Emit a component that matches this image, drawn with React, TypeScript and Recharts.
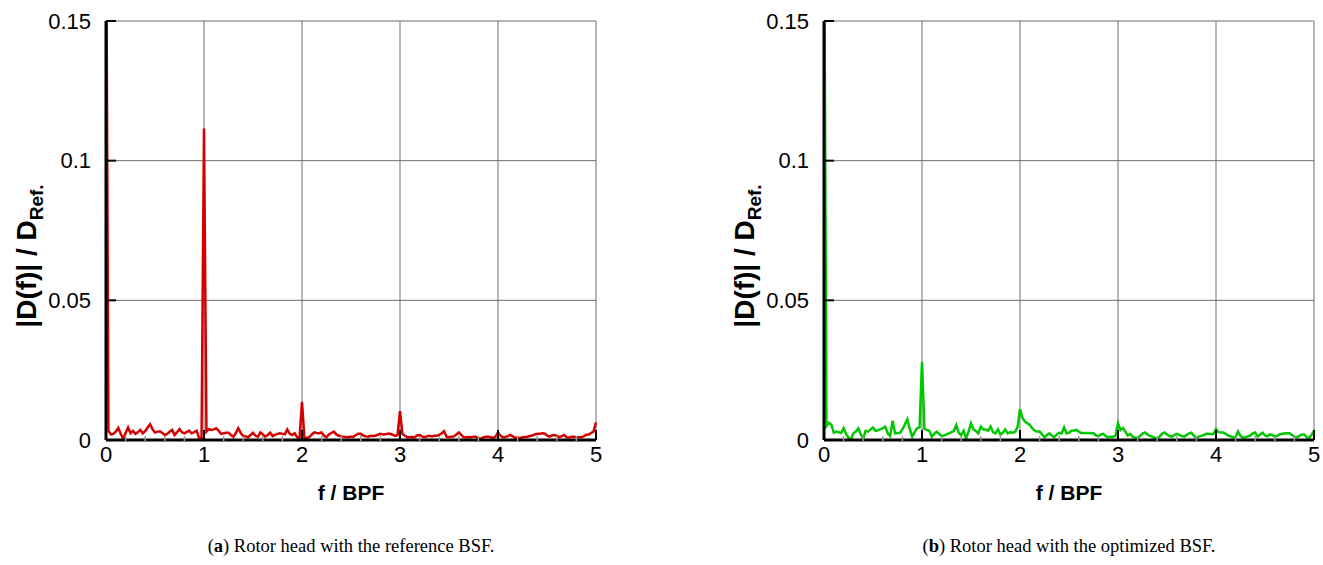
import { LineChart, Line, XAxis, YAxis, CartesianGrid } from "recharts";

// FFT bin spacing in f/BPF, 201 bins from 0 to 5
const BIN = 0.025;
const FREQ = Array.from({ length: 201 }, (_, i) => +(i * BIN).toFixed(3));

// |D(f)| / D_Ref. for the reference BSF (red)
const REFERENCE_BSF = [
  0.2, 0.0033, 0.002, 0.0022, 0.003, 0.0043, 0.0022, 0.0004, 0.0025, 0.0045,
  0.0024, 0.0033, 0.0022, 0.0028, 0.0036, 0.0024, 0.0032, 0.0045, 0.0057, 0.0038,
  0.0027, 0.003, 0.0031, 0.0025, 0.0018, 0.0022, 0.003, 0.0036, 0.0018, 0.0028,
  0.0039, 0.0028, 0.0024, 0.0029, 0.0033, 0.0024, 0.0028, 0.0033, 0.0007, 0.0005,
  0.1115, 0.003, 0.0039, 0.0036, 0.0038, 0.0042, 0.0033, 0.0022, 0.0024, 0.0026,
  0.0026, 0.0018, 0.0012, 0.0025, 0.0042, 0.0025, 0.0014, 0.0013, 0.001, 0.0018,
  0.0026, 0.0015, 0.0012, 0.0027, 0.002, 0.0012, 0.0018, 0.0026, 0.0014, 0.0018,
  0.0022, 0.0024, 0.0022, 0.002, 0.0038, 0.0022, 0.0018, 0.0024, 0.001, 0.0008,
  0.0137, 0.0006, 0.0008, 0.001, 0.002, 0.0027, 0.0025, 0.0024, 0.0027, 0.0015,
  0.001, 0.002, 0.0025, 0.003, 0.002, 0.0015, 0.0013, 0.0012, 0.001, 0.0011,
  0.0012, 0.0012, 0.0018, 0.0022, 0.0022, 0.0016, 0.0013, 0.0012, 0.0015, 0.0014,
  0.0015, 0.0019, 0.0022, 0.002, 0.0021, 0.0022, 0.0022, 0.0019, 0.0015, 0.0018,
  0.0103, 0.0022, 0.0015, 0.001, 0.001, 0.0011, 0.001, 0.0016, 0.0018, 0.0013,
  0.001, 0.0013, 0.0015, 0.0013, 0.0015, 0.0015, 0.0018, 0.0024, 0.0031, 0.0012,
  0.001, 0.0012, 0.0013, 0.002, 0.0027, 0.0018, 0.001, 0.001, 0.0011, 0.001,
  0.0012, 0.0012, 0.0006, 0.0004, 0.0009, 0.0012, 0.0012, 0.001, 0.0007, 0.0012,
  0.0027, 0.0015, 0.001, 0.0011, 0.0014, 0.0018, 0.0013, 0.0008, 0.0008, 0.0007,
  0.001, 0.0011, 0.0012, 0.0014, 0.0016, 0.002, 0.0022, 0.0022, 0.0024, 0.0023,
  0.0016, 0.0012, 0.0016, 0.0018, 0.0015, 0.001, 0.0014, 0.0018, 0.001, 0.0008,
  0.0012, 0.0012, 0.001, 0.001, 0.001, 0.0013, 0.0019, 0.002, 0.0025, 0.003,
  0.0063,
];

// |D(f)| / D_Ref. for the optimized BSF (green)
const OPTIMIZED_BSF = [
  0.2, 0.005, 0.0062, 0.0055, 0.0026, 0.003, 0.0028, 0.0025, 0.0042, 0.0022,
  0.0008, 0.0002, 0.0024, 0.003, 0.0042, 0.002, 0.0006, 0.0033, 0.003, 0.0038,
  0.0045, 0.0033, 0.0035, 0.0038, 0.0042, 0.0048, 0.0025, 0.0014, 0.0069, 0.0024,
  0.0025, 0.0026, 0.0038, 0.0055, 0.0074, 0.004, 0.0012, 0.0028, 0.0042, 0.0045,
  0.028, 0.004, 0.0036, 0.0033, 0.0012, 0.0022, 0.003, 0.0022, 0.0014, 0.0016,
  0.002, 0.0024, 0.0028, 0.0032, 0.0054, 0.0025, 0.0018, 0.0033, 0.0006, 0.003,
  0.006, 0.0038, 0.0032, 0.0024, 0.0048, 0.0038, 0.0038, 0.0033, 0.0048, 0.0028,
  0.0024, 0.0038, 0.002, 0.0026, 0.0038, 0.0024, 0.0028, 0.0026, 0.0029, 0.0045,
  0.011, 0.008, 0.0066, 0.006, 0.0054, 0.0042, 0.0033, 0.003, 0.003, 0.002,
  0.001, 0.0018, 0.0024, 0.0015, 0.001, 0.002, 0.0026, 0.0024, 0.0045, 0.0024,
  0.0026, 0.0033, 0.0034, 0.0036, 0.003, 0.0025, 0.0025, 0.0025, 0.0025, 0.0024,
  0.0024, 0.0016, 0.0014, 0.002, 0.0022, 0.0014, 0.001, 0.0012, 0.0012, 0.0015,
  0.006, 0.0036, 0.0043, 0.003, 0.0016, 0.0022, 0.0012, 0.0008, 0.0008, 0.0015,
  0.0023, 0.0027, 0.002, 0.0015, 0.0012, 0.0008, 0.0004, 0.0012, 0.0022, 0.0027,
  0.002, 0.0014, 0.0012, 0.0018, 0.0022, 0.0018, 0.0014, 0.0012, 0.0018, 0.0024,
  0.0026, 0.0015, 0.0008, 0.0012, 0.0015, 0.0018, 0.0022, 0.0022, 0.0021, 0.0022,
  0.0039, 0.0028, 0.0027, 0.0027, 0.0022, 0.0016, 0.0013, 0.001, 0.001, 0.0031,
  0.0015, 0.0008, 0.001, 0.0013, 0.0016, 0.0024, 0.0027, 0.0012, 0.002, 0.0026,
  0.0016, 0.0013, 0.002, 0.0018, 0.0012, 0.0015, 0.002, 0.0022, 0.0023, 0.0024,
  0.0024, 0.0018, 0.0012, 0.001, 0.0014, 0.002, 0.002, 0.001, 0.0008, 0.0018,
  0.0033,
];

const X_TICKS = [0, 1, 2, 3, 4, 5];
const X_MINOR = [
  0.2, 0.4, 0.6, 0.8, 1.2, 1.4, 1.6, 1.8, 2.2, 2.4, 2.6, 2.8,
  3.2, 3.4, 3.6, 3.8, 4.2, 4.4, 4.6, 4.8,
];
const Y_TICKS = [0, 0.05, 0.1, 0.15];
const Y_MINOR = [
  0.01, 0.02, 0.03, 0.04, 0.06, 0.07, 0.08, 0.09, 0.11, 0.12, 0.13, 0.14,
];

const SANS = "'Liberation Sans', Arial, sans-serif";
const SERIF = "'Liberation Serif', 'DejaVu Serif', serif";

function Panel({
  left,
  values,
  color,
  letter,
  caption,
}: {
  left: number;
  values: number[];
  color: string;
  letter: string;
  caption: string;
}) {
  const data = FREQ.map((f, i) => ({ f, v: values[i] }));
  const tickStyle = { fontSize: 22, fontFamily: SANS, fill: "#000" };

  return (
    <div style={{ position: "absolute", left, top: 0, width: 620, height: 565 }}>
      {/* axes are 1px thick (0 would hide them), margins compensate so the plot sits at 106..596 x 21..440 */}
      <LineChart
        width={620}
        height={470}
        data={data}
        margin={{ top: 21, right: 24, bottom: 28, left: 104 }}
      >
        <CartesianGrid stroke="#6e6e6e" strokeWidth={1} />
        <XAxis
          type="number"
          dataKey="f"
          domain={[0, 5]}
          ticks={X_TICKS}
          height={1}
          tickSize={-10}
          tickMargin={16}
          tick={tickStyle}
          axisLine={{ stroke: "#000", strokeWidth: 3 }}
          tickLine={{ stroke: "#000", strokeWidth: 2 }}
        />
        <XAxis
          xAxisId="minor"
          type="number"
          dataKey="f"
          domain={[0, 5]}
          ticks={X_MINOR}
          height={1}
          tickSize={-5}
          tickFormatter={() => ""}
          axisLine={false}
          tickLine={{ stroke: "#999", strokeWidth: 1.5 }}
        />
        <YAxis
          type="number"
          domain={[0, 0.15]}
          ticks={Y_TICKS}
          allowDataOverflow
          width={1}
          tickSize={-10}
          tickMargin={25}
          tick={tickStyle}
          axisLine={{ stroke: "#000", strokeWidth: 3 }}
          tickLine={{ stroke: "#000", strokeWidth: 2 }}
        />
        <YAxis
          yAxisId="minor"
          type="number"
          domain={[0, 0.15]}
          ticks={Y_MINOR}
          width={1}
          tickSize={-5}
          tickFormatter={() => ""}
          axisLine={false}
          tickLine={{ stroke: "#333", strokeWidth: 1 }}
        />
        <Line
          type="linear"
          dataKey="v"
          stroke={color}
          strokeWidth={2.5}
          dot={false}
          isAnimationActive={false}
        />
      </LineChart>

      <div
        style={{
          position: "absolute",
          left: 27 - 150,
          top: 256 - 16,
          width: 300,
          height: 32,
          lineHeight: "32px",
          textAlign: "center",
          transform: "rotate(-90deg)",
          fontFamily: SANS,
          fontWeight: "bold",
          fontSize: 28,
          whiteSpace: "nowrap",
        }}
      >
        |D(f)| / D
        <span style={{ fontSize: 19, position: "relative", top: 7 }}>Ref.</span>
      </div>

      <div
        style={{
          position: "absolute",
          left: 106,
          width: 490,
          top: 481,
          textAlign: "center",
          fontFamily: SANS,
          fontWeight: "bold",
          fontSize: 21,
        }}
      >
        f / BPF
      </div>

      <div
        style={{
          position: "absolute",
          left: 56,
          width: 590,
          top: 536,
          textAlign: "center",
          fontFamily: SERIF,
          fontSize: 18.5,
          whiteSpace: "nowrap",
        }}
      >
        (<b>{letter}</b>) {caption}
      </div>
    </div>
  );
}

export default function App() {
  return (
    <div
      style={{
        position: "absolute",
        left: 0,
        top: 0,
        width: 1323,
        height: 565,
        background: "#fff",
        overflow: "hidden",
      }}
    >
      <Panel
        left={0}
        values={REFERENCE_BSF}
        color="#d40000"
        letter="a"
        caption="Rotor head with the reference BSF."
      />
      <Panel
        left={718}
        values={OPTIMIZED_BSF}
        color="#00c800"
        letter="b"
        caption="Rotor head with the optimized BSF."
      />
    </div>
  );
}
